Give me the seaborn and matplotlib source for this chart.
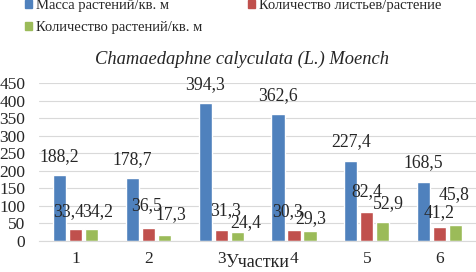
import numpy as np
import matplotlib
matplotlib.use('Agg')
import matplotlib.pyplot as plt
from matplotlib.patches import Patch
import pandas as pd
import seaborn as sns

uchastki = ['1', '2', '3', '4', '5', '6']
massa = [188.2, 178.7, 394.3, 362.6, 227.4, 168.5]
listya = [33.4, 36.5, 31.3, 30.3, 82.4, 41.2]
rasteniya = [34.2, 17.3, 24.4, 29.3, 52.9, 45.8]
series_names = ['Масса растений/кв. м', 'Количество листьев/растение', 'Количество растений/кв. м']
colors = ['#4F81BD', '#C0504D', '#9BBB59']
y_ticks = [0, 50, 100, 150, 200, 250, 300, 350, 400, 450]

# hand-placed label offsets (pixels) as in the original chart
label_shift = [
    [(0, 18), (0, 19), (0, 17.5), (0, 18.5), (0, 19.5), (0, 19)],
    [(-6.5, 17.5), (-1.5, 23), (4.5, 19), (-6, 18.5), (0, 20), (-1, 14)],
    [(6, 17.5), (7, 20), (8.5, 9.5), (0.5, 12.5), (6, 18.5), (-2, 30)],
]

df = pd.DataFrame({
    'Участки': uchastki * 3,
    'value': massa + listya + rasteniya,
    'series': [series_names[0]] * 6 + [series_names[1]] * 6 + [series_names[2]] * 6,
})

sns.set_style('white')
plt.rcParams['font.family'] = ['Liberation Serif', 'DejaVu Serif']

fig = plt.figure(figsize=(4.77, 2.72), dpi=100)
ax = fig.add_axes([0.082, 0.114, 0.916, 0.581])

sns.barplot(data=df, x='Участки', y='value', hue='series', palette=colors,
            width=0.66, gap=0.18, ax=ax, legend=False, saturation=1)

for cont, vals, shifts in zip(ax.containers, [massa, listya, rasteniya], label_shift):
    for p, v, (dx, dy) in zip(cont.patches, vals, shifts):
        ax.annotate(f'{v:.1f}'.replace('.', ','),
                    (p.get_x() + p.get_width() / 2, p.get_height()),
                    xytext=(dx, dy), textcoords='offset pixels',
                    ha='center', va='center', fontsize=12.7)

ax.set_ylim(0, 450)
ax.set_yticks(y_ticks)
ax.yaxis.grid(True, color='#D9D9D9', linewidth=0.8)
ax.set_axisbelow(True)
for s in ['left', 'right', 'top']:
    ax.spines[s].set_visible(False)
ax.spines['bottom'].set_color('#D9D9D9')
ax.tick_params(axis='both', length=0, labelsize=12.5)
ax.tick_params(axis='y', pad=10)
ax.tick_params(axis='x', pad=7)
ax.set_ylabel('')
ax.set_xlabel('Участки', fontsize=13)
ax.xaxis.set_label_coords(0.5, -0.085)

fig.text(0.508, 0.783, 'Chamaedaphne calyculata (L.) Moench', ha='center', va='center',
         fontsize=13.3, style='italic')

handles = [Patch(color=colors[0], label=series_names[0]),
           Patch(color=colors[2], label=series_names[2]),
           Patch(color=colors[1], label=series_names[1])]
fig.legend(handles=handles, ncol=2, loc='upper left', bbox_to_anchor=(0.052, 1.003),
           frameon=False, fontsize=10.5, handlelength=0.48, handleheight=0.48,
           handletextpad=0.27, columnspacing=3.15, labelspacing=0.6,
           borderpad=0, borderaxespad=0)

fig.savefig('out.png', dpi=100)
